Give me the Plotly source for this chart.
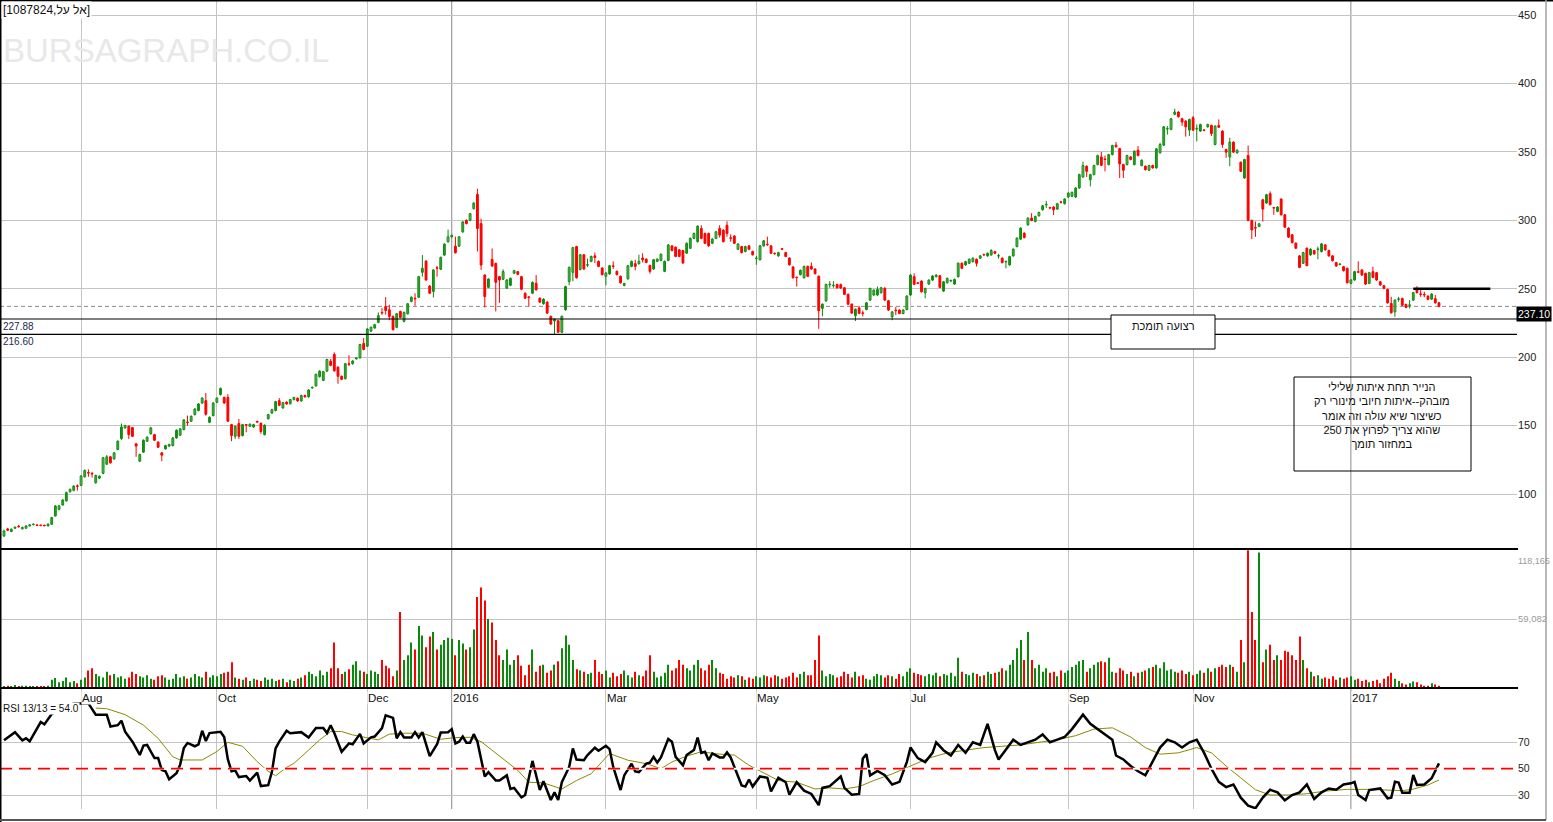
import plotly.graph_objects as go

# ---------------- DATA ----------------
opens = [
69.4,74.5,72.6,75.0,76.5,74.6,75.0,76.7,77.6,77.3,
77.2,77.1,76.7,77.9,84.0,88.8,92.0,95.0,101.7,102.7,
106.0,106.3,112.6,115.7,115.0,108.3,111.6,115.1,121.8,127.2,
125.7,132.5,140.5,148.3,149.5,148.5,136.7,124.0,130.6,138.6,
144.0,143.4,137.9,130.1,133.0,135.0,135.4,141.0,143.0,147.1,
152.6,153.2,158.0,161.0,166.5,168.2,152.4,157.3,167.0,172.6,
170.6,170.6,150.7,142.2,151.5,142.7,150.7,149.5,149.0,153.0,
151.7,143.4,155.0,159.2,161.0,168.2,162.9,167.2,166.0,169.0,
170.0,168.0,172.0,171.0,177.5,179.0,185.7,183.0,189.8,197.0,
202.0,192.7,186.0,184.3,195.0,195.2,198.8,199.5,210.0,208.0,
219.0,221.3,225.4,232.5,237.0,234.6,229.8,221.8,233.4,226.2,
231.7,240.7,242.8,243.8,262.0,270.2,252.0,248.0,265.2,264.2,
274.6,284.3,287.9,281.1,281.1,291.5,300.0,300.0,308.5,318.9,
297.6,260.0,251.0,271.4,268.5,258.8,256.9,250.4,252.5,261.3,
262.5,258.8,246.7,243.9,246.7,254.0,243.1,239.0,240.2,229.8,
226.4,226.6,218.2,234.6,255.2,262.0,280.8,264.0,274.8,267.2,
270.0,274.0,270.0,265.1,259.1,260.8,266.5,262.7,259.1,252.4,
257.2,266.3,268.3,268.3,272.4,271.6,267.0,264.4,270.0,270.7,
262.7,270.7,281.3,280.3,278.4,277.9,276.0,279.6,286.8,284.4,
294.0,290.4,290.4,283.2,286.8,294.0,292.8,296.4,287.0,288.5,
278.8,280.8,277.2,281.3,277.2,272.0,271.2,281.3,282.2,281.3,
275.7,274.0,279.0,276.4,272.4,265.9,258.2,260.3,258.0,266.3,
266.3,264.4,259.1,235.6,241.1,252.9,252.2,253.1,253.0,250.7,
245.9,238.7,230.3,236.0,232.2,234.8,241.7,245.4,245.4,247.1,
250.2,241.2,229.5,234.2,234.4,231.9,234.8,245.4,258.8,254.1,
255.6,247.1,253.4,256.3,258.8,259.5,248.3,254.4,255.7,253.4,
258.8,268.6,267.4,268.6,269.8,271.5,272.3,274.9,274.0,274.7,
277.1,273.8,272.3,269.6,267.4,274.0,280.8,286.2,290.6,296.7,
301.6,299.1,303.3,307.7,311.2,309.1,309.7,308.2,313.3,312.1,
317.0,317.5,317.0,323.6,331.7,339.5,329.7,333.4,340.7,346.3,
344.6,340.7,348.0,354.9,352.4,340.7,340.7,346.3,340.7,351.2,
340.0,339.5,336.6,340.0,338.3,349.3,354.9,366.7,366.4,377.4,
379.1,374.2,372.5,365.9,374.9,366.7,365.2,365.8,368.3,369.3,
355.4,369.3,365.2,351.7,346.3,357.1,349.3,342.4,330.9,347.3,
299.9,294.5,295.5,315.0,312.6,319.4,309.1,306.5,315.5,304.0,
294.3,289.4,283.3,274.0,268.6,279.6,274.7,277.9,278.7,277.1,
282.0,277.9,274.0,269.1,267.7,266.1,264.9,253.9,256.4,262.2,
263.7,261.2,253.9,262.5,261.7,255.1,252.2,249.5,239.2,233.1,
242.2,242.9,238.5,237.8,241.7,249.5,246.0,245.6,244.6,242.4,
242.7,239.7]

highs = [
74.0,75.3,74.8,76.2,77.5,76.0,77.2,78.0,78.4,77.7,
77.5,77.4,78.4,83.3,92.0,92.2,96.3,101.8,104.0,106.5,
107.0,113.8,118.0,118.0,116.2,114.2,113.6,127.0,128.5,127.8,
130.6,139.2,151.5,150.6,150.2,149.0,137.2,129.5,139.9,142.1,
149.0,144.0,138.5,130.7,136.0,136.8,141.6,147.2,148.2,154.7,
157.3,157.4,162.7,166.4,170.7,173.8,156.7,167.1,170.7,177.8,
171.2,173.0,151.3,150.1,154.8,151.3,151.0,151.6,151.3,153.6,
152.3,150.9,158.6,162.3,168.1,170.1,167.4,167.8,169.6,171.1,
170.6,172.6,172.6,176.6,178.5,188.0,190.4,190.0,198.9,198.7,
203.5,193.3,186.6,195.8,201.5,197.8,200.1,209.8,214.0,221.2,
222.4,224.3,232.7,236.0,243.9,238.3,230.4,232.3,234.0,233.3,
239.6,244.4,246.7,259.4,274.6,270.8,252.6,264.3,266.6,273.5,
283.2,293.2,289.6,288.1,288.5,299.4,300.6,305.4,313.2,323.0,
301.2,260.6,257.7,279.4,269.1,259.4,264.2,257.0,258.2,263.8,
263.1,259.4,247.3,244.5,255.3,260.0,243.7,243.0,240.8,230.4,
228.4,227.2,230.4,252.2,266.2,280.6,281.4,275.4,275.4,272.0,
274.2,276.4,270.6,265.7,262.1,267.4,270.0,263.3,259.7,254.4,
267.4,270.6,271.2,274.8,275.9,272.2,267.6,271.8,272.2,275.8,
270.6,282.6,281.9,280.9,279.0,278.5,283.8,287.4,291.0,296.3,
296.4,291.0,291.0,286.9,292.2,296.4,293.4,299.3,289.7,289.1,
283.3,281.4,281.4,281.9,277.8,274.0,281.9,285.6,288.1,281.9,
276.3,277.0,279.6,277.0,273.0,266.5,258.8,264.1,266.9,266.9,
269.2,265.0,259.7,239.3,253.7,255.5,255.5,253.7,253.8,251.3,
246.5,239.3,235.6,237.5,234.0,240.3,250.8,249.6,251.6,251.3,
251.4,241.8,233.7,236.8,235.0,235.0,245.2,260.6,261.2,254.7,
256.2,250.8,256.9,259.9,260.6,260.1,255.7,258.2,256.5,257.4,
269.2,269.2,270.4,272.1,272.9,272.1,274.6,275.5,276.5,278.9,
277.7,275.5,272.9,270.4,274.1,279.5,287.5,294.9,291.2,302.2,
305.2,303.4,306.3,311.2,314.2,309.7,310.3,312.7,313.9,316.1,
320.5,321.0,324.2,334.0,342.9,340.1,334.0,340.6,347.9,350.0,
347.3,348.6,355.2,357.3,353.0,341.3,347.9,346.9,351.1,354.2,
344.5,340.1,340.6,340.6,352.8,356.6,368.9,368.8,374.8,381.5,
379.7,374.9,373.1,374.3,376.2,370.0,370.6,366.4,370.6,369.9,
369.4,373.7,365.8,352.3,360.3,357.7,351.8,343.0,345.0,354.6,
300.5,299.1,298.0,315.6,319.3,321.1,309.7,310.3,316.1,304.6,
294.9,290.0,283.9,274.6,277.0,280.2,279.5,278.5,280.8,283.4,
282.6,278.5,274.6,269.7,268.5,266.7,265.5,257.0,263.1,270.0,
264.3,261.8,262.3,266.1,262.3,255.7,252.8,250.1,244.1,242.3,
244.1,243.5,239.1,241.7,247.7,251.9,249.0,247.8,245.2,246.7,
245.4,240.3]

lows = [
68.5,73.0,72.2,74.6,75.5,74.2,74.7,76.3,77.2,76.6,
76.5,76.4,76.3,77.5,83.5,88.0,91.5,94.5,101.0,102.0,
102.5,105.8,112.0,112.6,112.0,107.5,111.0,114.5,121.2,122.2,
125.0,132.0,139.3,147.8,140.3,141.6,127.2,123.4,130.0,138.0,
143.4,138.7,133.6,124.0,132.4,134.5,134.8,140.4,142.4,146.5,
150.0,152.6,157.4,160.4,165.9,157.3,151.8,156.7,166.4,172.0,
165.9,152.6,138.6,140.3,140.3,142.1,145.1,148.9,148.4,152.0,
144.0,142.8,154.4,158.6,160.4,164.2,162.3,165.2,165.4,168.4,
167.4,167.4,170.4,170.4,177.0,178.5,185.1,182.5,189.2,193.4,
189.4,180.6,183.2,183.7,193.5,194.6,198.2,198.9,205.0,207.4,
218.4,220.7,224.8,231.0,231.0,227.0,219.5,221.2,228.4,225.4,
231.1,240.1,237.5,243.2,258.8,255.8,246.1,243.6,258.8,263.6,
274.0,283.7,287.3,275.7,280.5,290.9,297.0,299.4,307.9,277.2,
263.7,236.3,250.4,266.0,233.4,239.7,256.3,249.8,251.9,260.7,
259.9,249.0,242.5,237.0,246.1,248.6,239.6,238.4,231.6,223.6,
216.6,217.6,217.6,234.0,252.5,255.5,257.4,263.4,263.8,265.8,
269.4,268.8,265.7,259.7,252.4,260.2,264.4,259.7,253.7,251.8,
256.6,265.7,263.5,267.7,269.2,268.6,261.0,263.8,269.4,270.1,
262.1,270.1,277.3,273.0,273.0,268.2,275.4,279.0,286.2,283.8,
286.2,282.6,280.7,282.6,286.2,287.4,283.8,288.0,284.4,282.6,
278.2,275.8,276.6,278.2,274.2,267.5,270.6,280.7,281.4,275.4,
274.9,273.4,278.2,273.0,266.9,257.4,251.6,259.7,257.4,258.5,
263.8,260.4,220.7,229.8,240.5,250.7,250.7,250.1,249.9,245.3,
238.1,231.6,226.4,231.4,229.8,234.2,241.1,244.8,244.8,246.5,
241.1,233.8,227.0,230.7,231.3,231.3,234.2,244.8,252.6,253.3,
247.2,243.0,252.8,255.7,258.2,250.4,247.7,253.8,254.8,252.8,
258.2,264.3,266.8,268.0,269.2,266.2,271.7,273.9,273.4,274.1,
275.3,272.0,268.5,264.9,266.8,273.4,280.2,285.6,286.8,296.1,
299.3,298.5,302.7,307.1,309.0,308.1,303.9,307.6,312.3,311.5,
316.4,316.9,316.4,323.0,331.1,331.7,324.8,332.8,340.1,339.6,
335.8,340.1,347.4,353.1,330.9,330.9,340.1,343.8,340.1,346.7,
339.4,336.4,336.0,337.7,337.7,348.8,354.3,362.6,365.8,376.8,
375.1,369.0,361.1,361.6,365.3,357.6,364.6,365.0,367.7,361.6,
354.8,367.4,352.9,345.7,339.5,349.2,348.7,335.2,330.3,299.3,
286.2,287.9,294.9,299.1,312.0,310.8,304.0,305.9,303.4,294.4,
287.1,283.1,279.0,265.0,268.0,266.3,274.1,274.8,271.5,276.5,
277.8,273.4,269.9,266.0,267.1,262.6,253.8,253.3,255.8,261.4,
259.4,252.8,253.3,257.7,255.8,252.1,249.6,239.1,231.8,229.5,
240.5,237.4,235.7,235.6,241.1,246.5,244.1,243.7,241.6,241.8,
239.1,236.5]

closes = [
73.0,73.5,74.3,75.8,76.0,75.6,76.7,77.5,77.9,77.0,
76.9,76.8,78.0,82.8,91.3,91.3,95.6,101.0,103.4,105.8,
105.5,113.1,117.2,115.3,114.6,113.6,113.1,126.5,127.2,122.8,
130.1,138.6,149.0,150.0,143.4,142.2,135.0,128.9,139.3,141.5,
148.3,139.3,134.2,128.4,135.4,136.2,141.0,146.6,147.6,154.1,
152.2,156.8,162.1,165.8,170.1,158.3,156.1,166.5,170.1,177.2,
166.5,153.2,142.7,149.5,142.2,150.7,150.3,151.0,150.7,152.5,
145.6,150.3,158.0,161.7,167.5,164.8,166.8,165.8,169.0,170.5,
168.0,172.0,171.0,176.0,178.0,187.4,189.8,189.4,198.3,194.0,
190.0,186.0,183.8,195.2,194.7,197.2,199.5,209.2,205.6,220.6,
221.8,223.7,230.3,232.2,234.1,229.8,220.1,231.7,229.0,232.7,
239.0,243.8,242.6,258.8,264.9,256.4,246.7,263.7,264.9,272.9,
282.6,287.9,289.0,276.3,287.9,298.8,297.6,304.8,312.6,294.0,
267.3,244.3,257.1,266.6,254.7,256.4,262.5,256.4,257.6,263.2,
260.5,249.6,243.1,243.6,254.7,249.2,240.2,242.4,232.2,224.2,
227.8,218.2,229.8,251.6,265.6,280.0,258.0,274.8,264.4,267.5,
273.6,272.8,266.3,260.3,261.5,266.8,266.3,260.3,254.3,253.8,
266.8,270.0,266.3,270.0,271.2,269.2,262.7,271.2,271.6,275.2,
270.0,282.0,277.9,273.6,273.6,268.8,283.2,286.8,290.4,295.7,
286.8,283.2,281.3,286.3,291.6,289.2,284.4,290.4,286.8,283.2,
282.7,276.4,280.8,278.8,274.8,272.4,281.3,285.0,282.0,276.0,
275.5,276.4,278.8,273.6,267.5,258.0,258.0,263.5,266.3,259.1,
264.4,261.0,233.9,238.7,253.1,253.1,252.4,250.7,250.5,245.9,
238.7,232.2,235.0,232.0,231.9,239.7,250.2,249.0,249.5,250.7,
241.7,234.4,233.1,233.9,231.9,234.4,244.6,260.0,253.2,253.9,
247.8,250.2,256.3,259.3,260.0,251.0,255.1,257.6,255.9,256.8,
268.6,264.9,269.8,271.5,272.3,268.6,274.0,274.7,275.9,277.9,
275.9,274.0,269.1,269.8,273.5,278.9,286.9,294.3,287.4,301.6,
299.9,302.8,305.7,310.6,311.4,308.9,307.7,312.1,313.1,315.5,
319.9,320.4,323.6,333.4,340.0,335.8,333.4,340.0,347.3,340.2,
344.4,348.0,354.6,353.7,341.2,336.6,347.3,344.4,350.5,347.3,
343.9,337.0,340.0,338.3,352.2,355.4,368.3,366.9,374.2,379.1,
375.7,371.8,368.3,373.7,365.9,366.9,370.0,365.6,370.0,363.4,
368.8,368.0,355.4,349.8,357.1,349.8,351.2,335.8,344.4,299.9,
293.0,294.3,297.4,308.2,318.7,311.4,308.9,309.7,304.0,295.0,
287.7,283.7,279.6,265.6,276.4,266.9,278.9,275.4,278.9,282.8,
278.4,274.0,270.5,266.6,267.9,263.2,254.4,256.4,262.5,262.0,
260.0,253.4,261.7,258.3,256.4,252.7,250.2,239.7,232.4,241.7,
242.4,238.0,236.3,238.0,247.1,247.1,245.8,245.4,242.2,246.1,
239.7,237.1]

# volume in thousands of shares
volume_k = [
1.5,2,1.5,2.5,1,2,2,1.5,1,1.5,
1,1.5,2,7,8.5,5,6,9,5,6,
4,7,9,15,17,12,10,9,14,11,
12,9,10,8,9,14,12,10,9,11,
8,7,10,11,9,7,8,12,9,10,
8,9,12,10,9,14,9,11,10,12,
13,14,22,9,8,7,9,6,8,7,
6,9,7,8,6,7,8,5,7,6,
8,9,11,14,12,10,15,11,14,17,
39,17,12,14,16,20,23,15,14,12,
15,14,12,24,19,17,10,15,65,24,
28,39,33,53,45,35,44,48,33,37,
41,43,42,28,41,38,33,35,50,78,
86,75,59,56,41,28,24,33,20,24,
28,19,11,20,33,14,19,20,13,15,
20,23,34,45,37,24,16,15,14,12,
13,24,14,12,15,9,13,10,12,15,
11,9,14,11,10,15,28,14,9,10,
13,20,15,17,24,20,17,15,20,24,
17,15,20,24,17,13,12,8,10,9,
11,10,7,9,8,10,9,11,10,9,
11,10,8,9,10,13,9,12,14,11,
11,24,45,15,10,12,11,9,10,14,
12,9,14,10,11,8,7,10,12,11,
9,11,10,8,12,10,14,17,13,12,
11,10,12,11,13,10,12,11,13,10,
26,14,12,11,13,12,10,11,14,12,
13,14,17,15,20,24,34,41,24,48,
24,17,20,14,17,13,14,10,15,13,
15,18,20,23,24,14,17,20,22,23,
22,26,14,13,17,15,12,14,10,13,
14,15,17,18,20,17,22,15,16,14,
13,15,12,14,11,12,15,13,17,14,
17,18,20,18,20,18,14,41,22,118,
65,41,116,22,33,37,24,28,24,32,
31,28,24,44,24,17,14,10,11,8,
9,8,10,7,9,8,9,10,7,8,
6,7,5,6,7,4,8,10,13,8,
6,4,3,4,5.5,5,3,2,2,4,
3,2]

# RSI(13) line: (candle index, value)
rsi_points = [
(0,71.5),(3,77.7),(5,71.5),(6,73),(7,70.8),(9,80),(10,85.4),(11,83.6),(13,91.5),
(19,99.5),(23,99.5),(25,91),(28,91),(29,82),(31,83),(32,86.4),(33,78),(35,70.5),
(37,60.4),(38,67.5),(39,68),(41,58),(42,58),(43,49),(44,48),(45,42),(47,46.5),
(48,53),(49,65.7),(50,69.5),(52,67),(53,68.4),(54,78.8),(55,71),(56,77),(59,78),
(60,74),(61,57),(62,48),(63,48.7),(64,43.6),(66,44.4),(67,41),(69,47),(70,36.8),
(72,37.5),(73,47.6),(74,65.4),(75,70.5),(77,78.8),(78,76.9),(81,77.7),(83,73.6),
(85,80.8),(87,80.8),(88,77),(89,83),(90,77),(92,62.8),(94,69.2),(95,68.5),(97,76.4),
(98,69.2),(100,73.8),(101,74.4),(103,80.8),(104,90.5),(106,88.5),(107,73),(108,77.7),
(109,73.6),(111,73.6),(112,77.7),(113,73.6),(114,77.7),(116,59.5),(118,68.5),
(119,77.4),(121,77.7),(122,80),(123,69.2),(124,70.5),(125,74.4),(126,69.7),(127,69.7),
(128,76.2),(129,70.5),(131,44.1),(132,47.4),(134,41),(135,41),(137,44.9),(138,34.6),
(139,35.4),(141,28.2),(142,30),(144,55.9),(146,33.8),(147,40.5),(149,26.2),(150,32),
(151,26.2),(152,39.7),(154,51.3),(155,65.4),(156,56.9),(158,56.4),(159,60.3),
(161,65.9),(162,63.6),(164,67.4),(165,64.9),(166,51.3),(168,33.8),(169,44.9),
(171,53.8),(172,47.9),(173,47.4),(175,53.8),(176,54.6),(177,59),(178,54.6),(179,58.5),
(181,72.6),(182,70.5),(183,59),(185,52.6),(186,60.3),(188,64.1),(189,73.6),(190,62),
(191,62.8),(192,56.4),(193,61.5),(195,58.5),(196,58.5),(197,62.3),(198,58.5),
(201,37.2),(202,36.4),(203,41.8),(204,36.4),(206,44.1),(208,43.1),(209,32.8),
(211,43.1),(213,39.7),(214,30.3),(216,39.7),(218,33.3),(220,30.8),(222,22.3),
(223,35.4),(225,36.7),(228,44.1),(229,35.4),(231,30.3),(233,30.8),(234,57.7),(235,61),
(236,44.9),(238,48.2),(240,45),(242,38),(244,40),(246,55),(247,66),(249,58),(251,55),
(253,62),(254,70),(256,64),(258,60),(260,68),(262,62),(264,70),(266,68),(268,84),
(270,64),(271,57),(273,65),(275,72),(277,68),(279,70),(281,72),(283,76),(285,70),
(287,72),(289,74),(291,80),(293,87),(294,91),(296,84),(298,80),(300,76),(302,72),
(303,60),(305,57),(307,52),(309,48),(311,45),(313,55),(315,66),(317,72),(319,70),
(321,66),(323,70),(325,72),(327,62),(329,50),(331,40),(333,36),(335,38),(337,28),
(339,22),(341,20),(343,28),(345,34),(347,32),(349,26),(351,30),(353,32),(355,38),
(357,27),(359,32),(361,35),(363,34),(365,38),(367,38.9),(368,40),(369,30),(371,26.2),
(372,33.8),(375,35),(377,27.5),(378,28),(379,40.1),(380,39.5),(381,31.8),(383,31.8),
(384,45.2),(385,37.6),(387,38),(389,42.7),(391,54)]

# 13-period average of the RSI: (candle index, value)
rsi_ma_points = [
(25,96),(28,95.5),(33,91),(38,83),(42,73),(46,59),(48,56.6),(54,56.6),(58,63),(61,70),
(65,67),(69,55.3),(72,48),(74,44.6),(77,51),(79,54),(83,64.1),(86,71.8),(89,78.2),
(92,78.2),(95,75.6),(99,73.6),(102,71.8),(105,76.2),(109,76.9),(114,76.9),(119,72.3),
(123,73.6),(127,73.8),(130,70.5),(134,61.5),(140,48.7),(143,39.7),(147,39.2),
(152,34.6),(156,41),(160,46.2),(163,55.1),(165,61.5),(170,56.4),(175,53.8),(179,50),
(182,55.1),(186,59.5),(190,62.8),(195,61),(199,60.3),(203,52.6),(207,46.7),(211,41),
(216,39.7),(221,34.6),(225,35.4),(229,34.6),(233,36.4),(237,41),(242,46),(247,52),
(252,58),(257,62),(262,64),(267,66),(272,67),(277,68),(282,70),(287,72),(292,75),
(297,80),(302,81),(307,74),(311,66),(315,61),(320,62),(325,66),(329,62),(333,52),
(337,43),(341,34),(345,30),(350,30),(355,31),(360,33),(366,34.3),(372,34.3),
(381,33.3),(384,34.5),(388,37.6),(391,41.4)]

month_labels = ["Aug", "Oct", "Dec", "2016", "Mar", "May", "Jul", "Sep", "Nov", "2017"]
month_start_idx = [21, 58, 99, 122, 164, 205, 247, 290, 324, 367]
year_start_idx = [122, 367]

price_ticks = [100, 150, 200, 250, 300, 350, 400, 450]
rsi_ticks = [30, 50, 70]
vol_max = 118165
vol_mid = 59082
support_top = 227.88
support_bottom = 216.60
last_close = 237.10
resistance_level = 250
resistance_from_idx, resistance_to_idx = 384, 405

title_text = "[1087824,אל על]"
watermark_text = "BURSAGRAPH.CO.IL"
zone_text = "רצועה תומכת"
note_lines = ["הנייר תחת איתות שלילי",
              "מובהק--איתות חיובי מינורי רק",
              "כשיצור שיא עולה וזה אומר",
              "שהוא צריך לפרוץ את 250",
              "במחזור תומך"]
rsi_label = "RSI 13/13 = 54.0"

assert len(opens) == len(highs) == len(lows) == len(closes) == len(volume_k)

# ---------------- GEOMETRY / STYLE ----------------
W, H = 1553, 822
PLOT_RIGHT = 1517            # px, right edge of the plotting area
X0_PX, PITCH = 4.0, 3.67     # px position of first candle, px per candle
P_TOP, P_BOT = 0, 549        # price panel
V_TOP, V_BOT = 549, 688      # volume panel
R_TOP, R_BOT = 688, 809      # RSI panel
PRICE_RANGE = [59.83, 460.96]
VOL_RANGE = [0, 119025]
RSI_RANGE = [19.4, 111.2]

GREEN = "#0a8a0a"
RED = "#ff0000"
GRID = "#c4c4c4"
YEARGRID = "#8a8a8a"
FONT = "Liberation Sans, Arial, sans-serif"


def fx(px):
    return px / W


def fy(py):
    return 1 - py / H


n = len(closes)
idx = list(range(n))
up = [c >= o for o, c in zip(opens, closes)]
g_idx = [i for i in idx if up[i]]
r_idx = [i for i in idx if not up[i]]


def wicks(sel):
    xs, ys = [], []
    for i in sel:
        xs += [i, i, None]
        ys += [lows[i], highs[i], None]
    return xs, ys


MIN_BODY = 0.45
fig = go.Figure()

gx, gy = wicks(g_idx)
rx, ry = wicks(r_idx)
fig.add_trace(go.Scatter(x=gx, y=gy, mode="lines", line=dict(color=GREEN, width=1),
                         xaxis="x", yaxis="y", hoverinfo="skip"))
fig.add_trace(go.Scatter(x=rx, y=ry, mode="lines", line=dict(color=RED, width=1),
                         xaxis="x", yaxis="y", hoverinfo="skip"))
fig.add_trace(go.Bar(x=g_idx,
                     y=[max(closes[i] - opens[i], MIN_BODY) for i in g_idx],
                     base=[opens[i] for i in g_idx], width=0.5,
                     marker=dict(color="white", line=dict(color=GREEN, width=1)),
                     xaxis="x", yaxis="y", hoverinfo="skip"))
fig.add_trace(go.Bar(x=r_idx,
                     y=[max(opens[i] - closes[i], MIN_BODY) for i in r_idx],
                     base=[closes[i] for i in r_idx], width=0.5,
                     marker=dict(color=RED, line=dict(color=RED, width=1)),
                     xaxis="x", yaxis="y", hoverinfo="skip"))

# volume
fig.add_trace(go.Bar(x=g_idx, y=[volume_k[i] * 1000 for i in g_idx], width=0.28,
                     marker=dict(color=GREEN, line=dict(width=0)),
                     xaxis="x2", yaxis="y2", hoverinfo="skip"))
fig.add_trace(go.Bar(x=r_idx, y=[volume_k[i] * 1000 for i in r_idx], width=0.28,
                     marker=dict(color=RED, line=dict(width=0)),
                     xaxis="x2", yaxis="y2", hoverinfo="skip"))

# RSI
fig.add_trace(go.Scatter(x=[p[0] for p in rsi_ma_points], y=[p[1] for p in rsi_ma_points],
                         mode="lines", line=dict(color="#8a8a00", width=1),
                         xaxis="x3", yaxis="y3", hoverinfo="skip"))
fig.add_trace(go.Scatter(x=[p[0] for p in rsi_points], y=[p[1] for p in rsi_points],
                         mode="lines", line=dict(color="black", width=2.5),
                         xaxis="x3", yaxis="y3", hoverinfo="skip"))

xrange_ = [-X0_PX / PITCH, (PLOT_RIGHT - X0_PX) / PITCH]
grid_months = [m for m in month_start_idx if m not in year_start_idx]
xcommon = dict(range=xrange_, showticklabels=False, ticks="", showgrid=True,
               gridcolor=GRID, gridwidth=1, tickmode="array", tickvals=grid_months,
               zeroline=False, showline=False, fixedrange=True,
               domain=[0, fx(PLOT_RIGHT)])

tickfont = dict(family=FONT, size=11, color="#222")
fig.update_layout(
    width=W, height=H, margin=dict(l=0, r=0, t=0, b=0),
    paper_bgcolor="white", plot_bgcolor="rgba(0,0,0,0)",
    showlegend=False, hovermode=False, barmode="overlay", dragmode=False,
    font=dict(family=FONT, size=11, color="#222"),
    xaxis=dict(anchor="y", **xcommon),
    xaxis2=dict(anchor="y2", **xcommon),
    xaxis3=dict(anchor="y3", **xcommon),
    yaxis=dict(domain=[fy(P_BOT), fy(P_TOP)], range=PRICE_RANGE, side="right", anchor="x",
               tickmode="array", tickvals=price_ticks, showgrid=True, gridcolor=GRID,
               zeroline=False, ticks="", tickfont=tickfont, fixedrange=True),
    yaxis2=dict(domain=[fy(V_BOT), fy(V_TOP)], range=VOL_RANGE, side="right", anchor="x2",
                tickmode="array", tickvals=[vol_mid], ticktext=[f"{vol_mid:,}"],
                showgrid=True, gridcolor=GRID, zeroline=False, ticks="",
                tickfont=dict(family=FONT, size=9.5, color="#9a9a9a"), fixedrange=True),
    yaxis3=dict(domain=[fy(R_BOT), fy(R_TOP)], range=RSI_RANGE, side="right", anchor="x3",
                tickmode="array", tickvals=rsi_ticks, showgrid=True, gridcolor=GRID,
                zeroline=False, ticks="", tickfont=dict(family=FONT, size=10.5, color="#222"),
                fixedrange=True),
)

shapes = []
# darker year gridlines (all three panels)
for yi in year_start_idx:
    for xa, ya in (("x", "y"), ("x2", "y2"), ("x3", "y3")):
        shapes.append(dict(type="line", xref=xa, yref=ya + " domain", x0=yi, x1=yi, y0=0, y1=1,
                           line=dict(color=YEARGRID, width=1), layer="below"))
# RSI 50 reference line
shapes.append(dict(type="line", xref="x3 domain", yref="y3", x0=0, x1=1, y0=50, y1=50,
                   line=dict(color="white", width=2)))
shapes.append(dict(type="line", xref="x3 domain", yref="y3", x0=0, x1=1, y0=50, y1=50,
                   line=dict(color=RED, width=1.6, dash="12px,7px")))
# last price dotted line
shapes.append(dict(type="line", xref="x domain", yref="y", x0=0, x1=1, y0=last_close, y1=last_close,
                   line=dict(color="#8a8a8a", width=1, dash="4px,3px"), layer="below"))
# support band lines
for lvl in (support_top, support_bottom):
    shapes.append(dict(type="line", xref="x domain", yref="y", x0=0, x1=1, y0=lvl, y1=lvl,
                       line=dict(color="black", width=1.2)))
# resistance line at 250
shapes.append(dict(type="line", xref="x", yref="y", x0=resistance_from_idx, x1=resistance_to_idx,
                   y0=resistance_level, y1=resistance_level, line=dict(color="black", width=2.5)))
# panel separators
for sep in (V_TOP, V_BOT):
    shapes.append(dict(type="line", xref="paper", yref="paper", x0=0, x1=fx(PLOT_RIGHT + 1),
                       y0=fy(sep), y1=fy(sep), line=dict(color="black", width=2.2)))
# outer frame
shapes.append(dict(type="line", xref="paper", yref="paper", x0=0, x1=1, y0=fy(0.5), y1=fy(0.5),
                   line=dict(color="black", width=2)))
shapes.append(dict(type="line", xref="paper", yref="paper", x0=fx(0.5), x1=fx(0.5), y0=0, y1=1,
                   line=dict(color="black", width=2)))
shapes.append(dict(type="line", xref="paper", yref="paper", x0=fx(1546), x1=fx(1546), y0=fy(820), y1=1,
                   line=dict(color="#a0a0a0", width=1.5)))
shapes.append(dict(type="line", xref="paper", yref="paper", x0=0, x1=fx(1546), y0=fy(820), y1=fy(820),
                   line=dict(color="#555", width=2)))
# support zone box (white filled)
shapes.append(dict(type="rect", xref="paper", yref="paper", x0=fx(1111), x1=fx(1215),
                   y0=fy(349), y1=fy(315), fillcolor="white", line=dict(color="black", width=1)))
# note box
shapes.append(dict(type="rect", xref="paper", yref="paper", x0=fx(1294), x1=fx(1471),
                   y0=fy(471), y1=fy(377), fillcolor="rgba(0,0,0,0)", line=dict(color="black", width=1)))
fig.update_layout(shapes=shapes)

ann = []
ann.append(dict(text=watermark_text, xref="paper", yref="paper", x=fx(1), y=fy(50),
                xanchor="left", yanchor="middle", showarrow=False,
                font=dict(family=FONT, size=33, color="#e8e8e8")))
ann.append(dict(text=title_text, xref="paper", yref="paper", x=fx(1), y=fy(1),
                xanchor="left", yanchor="top", showarrow=False, bgcolor="white", borderpad=1,
                font=dict(family=FONT, size=12, color="#111")))
for lbl, mi in zip(month_labels, month_start_idx):
    ann.append(dict(text=lbl, xref="x3", yref="paper", x=mi, y=fy(691),
                    xanchor="left", yanchor="top", showarrow=False, bgcolor="white", borderpad=0,
                    font=dict(family=FONT, size=11.5, color="#111")))
ann.append(dict(text=rsi_label, xref="paper", yref="paper", x=fx(2), y=fy(702),
                xanchor="left", yanchor="top", showarrow=False, bgcolor="white", borderpad=0,
                font=dict(family=FONT, size=10, color="#111")))
for lvl in (support_top, support_bottom):
    ann.append(dict(text=f"{lvl:.2f}", xref="paper", yref="y", x=fx(2), y=lvl,
                    xanchor="left", yanchor="top", yshift=-1, showarrow=False, borderpad=0,
                    font=dict(family=FONT, size=10, color="#1c2a4a")))
ann.append(dict(text=f"{last_close:.2f}", xref="paper", yref="y", x=fx(1552), y=last_close,
                xanchor="right", yanchor="top", showarrow=False, bgcolor="black", borderpad=1,
                font=dict(family=FONT, size=10.5, color="white")))
ann.append(dict(text=f"{vol_max:,}", xref="paper", yref="paper", x=fx(1551), y=fy(561),
                xanchor="right", yanchor="middle", showarrow=False, borderpad=0,
                font=dict(family=FONT, size=9, color="#9a9a9a")))
ann.append(dict(text=zone_text, xref="paper", yref="paper", x=fx(1163), y=fy(318),
                xanchor="center", yanchor="top", showarrow=False,
                font=dict(family=FONT, size=11, color="#111")))
ann.append(dict(text="<br>".join(note_lines), xref="paper", yref="paper", x=fx(1382), y=fy(379),
                xanchor="center", yanchor="top", align="center", showarrow=False,
                font=dict(family=FONT, size=11, color="#111")))
fig.update_layout(annotations=ann)

fig.write_html("out.html", config={"displayModeBar": False},
               post_script="document.body.style.margin='0';document.body.style.overflow='hidden';")
